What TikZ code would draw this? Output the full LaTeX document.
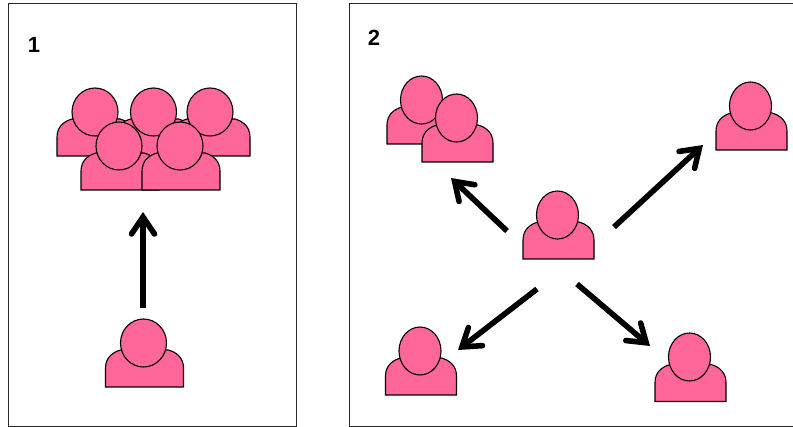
\documentclass[tikz,border=0pt]{standalone}
\usepackage{fontspec}
\setmainfont{Liberation Sans}
\usetikzlibrary{arrows.meta}
\definecolor{pinkskin}{RGB}{255,102,153}
\tikzset{panel/.style={draw=black!85,line width=.9pt},
	bigarrow/.style={line width=5.6pt,-{Straight Barb[length=17pt,width=23pt,line cap=round,line join=miter]}},
	panellabel/.style={font=\fontsize{22}{22}\selectfont\bfseries,inner sep=0pt},
	skin/.style={fill=pinkskin,draw=black,line width=1.1pt}}
% #1 center x, #2 bottom y, #3 half body width, #4 head x radius, #5 head y, #6 head y radius
\newcommand{\person}[6]{
	\path[skin] (#1-#3,#2)--(#1-#3,#2-19) .. controls (#1-#3,#2-30) and (#1-#3+8,#2-35) .. (#1-#3+15,#2-37)
		--(#1+#3-15,#2-37) .. controls (#1+#3-8,#2-35) and (#1+#3,#2-30) .. (#1+#3,#2-19)--(#1+#3,#2)--cycle;
	\path[skin] (#1-1,#5) ellipse ({#4} and {#6});
}
\begin{document}
\begin{tikzpicture}[x=1pt,y=-1pt]
	\useasboundingbox (0,0) rectangle (793,427);
	\draw[panel] (8.5,3.5) rectangle (296.5,426.5);
	\draw[panel] (349.5,3.5) rectangle (800,426.5);
	\node[panellabel] (num1) at (34,44.5){1};
	\node[panellabel] (num2) at (374,38){2};
	%panel 1
	\person{96}{156}{39}{23}{112}{24}
	\person{154.5}{156}{39}{23}{112}{24}
	\person{211}{156}{39}{23}{112}{24}
	\person{120}{190}{39}{23}{146}{24}
	\person{181}{190}{39}{23}{146}{24}
	\person{144.5}{387}{39}{23}{343}{24}
	%panel 2
	\person{422.5}{144}{35.5}{21}{100}{24}
	\person{457.5}{162}{35.5}{21}{118}{24}
	\person{558.5}{259}{35.5}{21}{215}{24}
	\person{751.5}{150}{35.5}{21}{106}{24}
	\person{421}{395}{35.5}{21}{351}{24}
	\person{690.5}{401.5}{35.5}{21}{357}{24}
	\coordinate (a1) at (143,308);
	\coordinate (b1) at (143,212);
	\coordinate (hub1) at (507,231);
	\coordinate (hub2) at (614,227);
	\coordinate (hub3) at (537,289);
	\coordinate (hub4) at (577,284);
	\coordinate (t1) at (451,178);
	\coordinate (t2) at (703,145);
	\coordinate (t3) at (458,350);
	\coordinate (t4) at (650,346);
	\draw[bigarrow] (a1)--(b1);
	\draw[bigarrow] (hub1)--(t1);
	\draw[bigarrow] (hub2)--(t2);
	\draw[bigarrow] (hub3)--(t3);
	\draw[bigarrow] (hub4)--(t4);
\end{tikzpicture}
\end{document}
